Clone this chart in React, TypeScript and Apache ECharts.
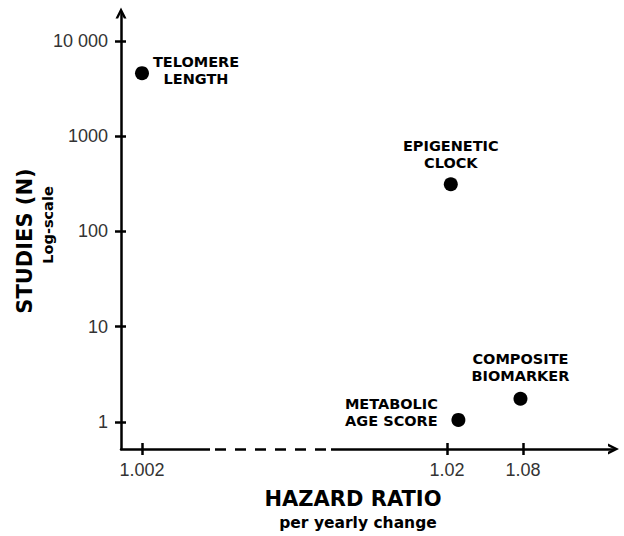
import React, { useEffect, useRef } from "react";
import * as echarts from "echarts";

// ---- data ----
const BIOMARKERS = ["TELOMERE\nLENGTH", "EPIGENETIC\nCLOCK", "METABOLIC\nAGE SCORE", "COMPOSITE\nBIOMARKER"];
const HAZARD_RATIO = [1.002, 1.023, 1.029, 1.078];
const STUDIES_N = [4600, 313, 1.05, 1.75];
const X_TICKS = [1.002, 1.02, 1.08];
const X_TICK_LABELS = ["1.002", "1.02", "1.08"];
const Y_TICKS = [1, 10, 100, 1000, 10000];
const Y_TICK_LABELS = ["1", "10", "100", "1000", "10 000"];

// ---- broken x scale (1.002..1.02 compressed, shown dashed) ----
const SCALE_HR = [1.002, 1.02, 1.08];
const SCALE_POS = [0, 305, 381];
function hrToPos(hr: number): number {
  let i = 0;
  if (hr > SCALE_HR[1]) i = 1;
  const h0 = SCALE_HR[i], h1 = SCALE_HR[i + 1];
  const p0 = SCALE_POS[i], p1 = SCALE_POS[i + 1];
  return p0 + ((hr - h0) / (h1 - h0)) * (p1 - p0);
}
const X_MIN = -21;
const X_MAX = 471.5;
const BREAK_FROM = 68;
const BREAK_TO = 189;
const Y_MIN = 0.5197;
const Y_MAX = 19710;

// label offsets (styling)
const LABEL_OFFSETS: [number, number][] = [[54, -3], [0, -30], [-67, -7], [0, -31]];

const ARROW = "path://M0,10 L5,0 L10,10 L7.6,10 L5,4.8 L2.4,10 Z";
const LABEL_FONT = "Liberation Sans, Arial, sans-serif";
const BOLD_FONT = "DejaVu Sans, Verdana, sans-serif";

export default function App() {
  const ref = useRef<HTMLDivElement>(null);
  useEffect(() => {
    if (!ref.current) return;
    const chart = echarts.init(ref.current, null, { renderer: "svg" });
    const xTickPos = X_TICKS.map(hrToPos);
    const xLabelFor = (v: number) => {
      let best = 0;
      xTickPos.forEach((p, i) => {
        if (Math.abs(p - v) < Math.abs(xTickPos[best] - v)) best = i;
      });
      return X_TICK_LABELS[best];
    };
    const yLabelFor = (v: number) => {
      const i = Y_TICKS.findIndex((t) => Math.abs(Math.log10(t) - Math.log10(v)) < 1e-6);
      return i >= 0 ? Y_TICK_LABELS[i] : String(v);
    };
    const axisLineStyle = { color: "#000", width: 2.5 };
    chart.setOption({
      animation: false,
      backgroundColor: "#fff",
      grid: { left: 121, right: 10.5, top: 13, bottom: 87, containLabel: false },
      xAxis: [
        {
          type: "value",
          min: X_MIN,
          max: X_MAX,
          position: "bottom",
          splitLine: { show: false },
          axisLine: { show: true, onZero: false, lineStyle: axisLineStyle, symbol: ["none", ARROW], symbolSize: [13, 11] },
          axisTick: { show: true, inside: false, length: 6, customValues: xTickPos, lineStyle: { color: "#000", width: 2.5 } },
          axisLabel: {
            customValues: xTickPos,
            formatter: (v: number) => xLabelFor(v),
            fontFamily: LABEL_FONT,
            fontSize: 18,
            color: "#333",
            margin: 12,
          },
        },
        {
          type: "value",
          min: X_MIN,
          max: X_MAX,
          position: "bottom",
          splitLine: { show: false },
          axisLine: { show: false, onZero: false },
          axisTick: { show: true, inside: true, length: 6, customValues: xTickPos, lineStyle: { color: "#000", width: 2.5 } },
          axisLabel: { show: false },
        },
      ],
      yAxis: [
        {
          type: "log",
          logBase: 10,
          min: Y_MIN,
          max: Y_MAX,
          splitLine: { show: false },
          axisLine: { show: true, onZero: false, lineStyle: axisLineStyle, symbol: ["none", ARROW], symbolSize: [13, 11] },
          axisTick: { show: true, inside: false, length: 6, customValues: Y_TICKS, lineStyle: { color: "#000", width: 2.5 } },
          axisLabel: {
            customValues: Y_TICKS,
            formatter: (v: number) => yLabelFor(v),
            fontFamily: LABEL_FONT,
            fontSize: 18,
            color: "#333",
            margin: 13,
          },
        },
        {
          type: "log",
          logBase: 10,
          min: Y_MIN,
          max: Y_MAX,
          position: "left",
          splitLine: { show: false },
          axisLine: { show: false, onZero: false },
          axisTick: { show: true, inside: true, length: 5, customValues: Y_TICKS, lineStyle: { color: "#000", width: 2.5 } },
          axisLabel: { show: false },
        },
      ],
      graphic: [
        {
          type: "text",
          x: 25,
          y: 241,
          rotation: Math.PI / 2,
          style: {
            text: "STUDIES (N)",
            fontFamily: BOLD_FONT,
            fontWeight: "bold",
            fontSize: 21,
            fill: "#000",
            textAlign: "center",
            textVerticalAlign: "middle",
          },
        },
        {
          type: "text",
          x: 48,
          y: 225,
          rotation: Math.PI / 2,
          style: {
            text: "Log-scale",
            fontFamily: BOLD_FONT,
            fontWeight: "bold",
            fontSize: 14.5,
            fill: "#000",
            textAlign: "center",
            textVerticalAlign: "middle",
          },
        },
        {
          type: "text",
          x: 353,
          y: 499,
          style: {
            text: "HAZARD RATIO",
            fontFamily: BOLD_FONT,
            fontWeight: "bold",
            fontSize: 21,
            fill: "#000",
            textAlign: "center",
            textVerticalAlign: "middle",
          },
        },
        {
          type: "text",
          x: 358,
          y: 523,
          style: {
            text: "per yearly change",
            fontFamily: BOLD_FONT,
            fontWeight: "bold",
            fontSize: 15.5,
            fill: "#000",
            textAlign: "center",
            textVerticalAlign: "middle",
          },
        },
      ],
      series: [
        {
          type: "scatter",
          clip: false,
          symbolSize: 14,
          itemStyle: { color: "#000", opacity: 1 },
          data: HAZARD_RATIO.map((hr, i) => ({
            name: BIOMARKERS[i],
            value: [hrToPos(hr), STUDIES_N[i]],
            label: { offset: LABEL_OFFSETS[i] },
          })),
          label: {
            show: true,
            position: "inside",
            formatter: (p: any) => p.name,
            fontFamily: BOLD_FONT,
            fontWeight: "bold",
            fontSize: 14.5,
            lineHeight: 17,
            color: "#000",
            opacity: 1,
            align: "center",
            verticalAlign: "middle",
          },
          markLine: {
            silent: true,
            symbol: ["none", "none"],
            label: { show: false },
            data: [
              [
                { coord: [BREAK_FROM, Y_MIN], lineStyle: { color: "#fff", width: 7, type: "solid", opacity: 1 } },
                { coord: [BREAK_TO, Y_MIN] },
              ],
              [
                { coord: [BREAK_FROM + 5, Y_MIN], lineStyle: { color: "#000", width: 2.5, type: [11, 9], opacity: 1 } },
                { coord: [BREAK_TO, Y_MIN] },
              ],
            ],
          },
        },
      ],
    });
    return () => chart.dispose();
  }, []);
  return <div ref={ref} style={{ position: "fixed", left: 0, top: 0, width: 624, height: 536 }} />;
}
